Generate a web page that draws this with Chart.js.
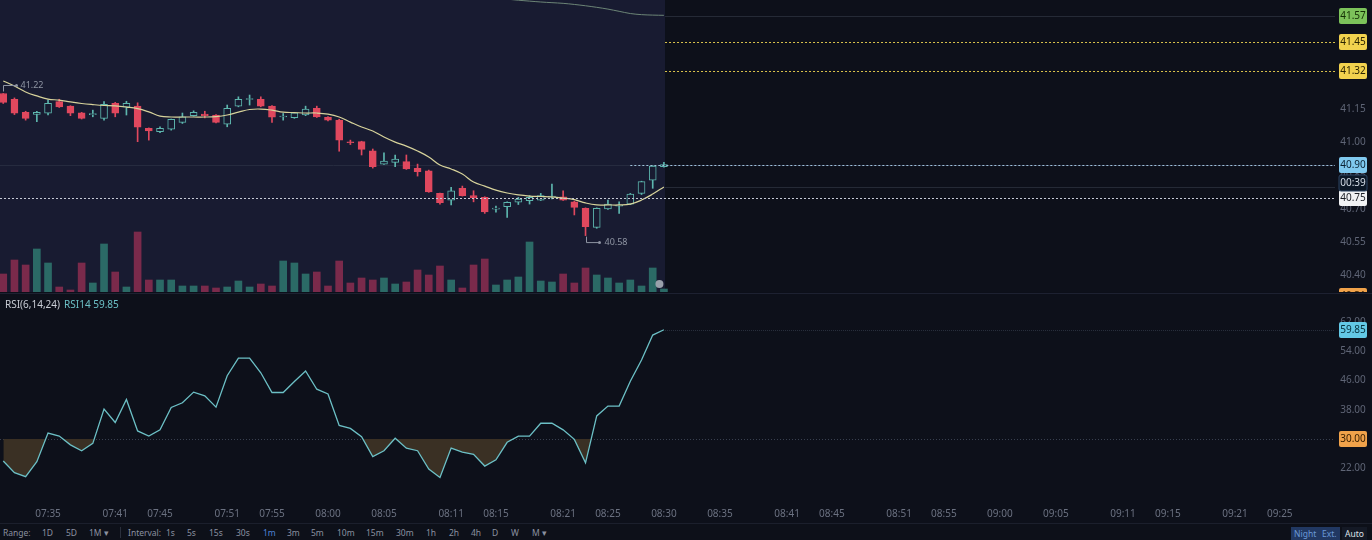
<!DOCTYPE html>
<html>
<head>
<meta charset="utf-8">
<script src="https://cdn.jsdelivr.net/npm/chart.js@4.4.0/dist/chart.umd.min.js"></script>
<style>
  body { margin: 0; background: #0c0f19; width: 1372px; height: 540px; overflow: hidden; font-family: "Noto Sans", sans-serif; }
  #price { position: absolute; left: 0; top: 0; }
  #rsi { position: absolute; left: 0; top: 293px; }
  #rsiLabel { position: absolute; left: 5px; top: 297px; font-size: 10px; color: #c9cdd5; }
  #rsiLabel b { font-weight: normal; color: #6cc0c6; margin-left: 4px; }
  #bar { position: absolute; left: 0; top: 523px; width: 1372px; height: 17px; background: #0d1019; border-top: 1px solid #1b1f2c; font-size: 8.5px; color: #8b91a0; }
  #bar span { position: absolute; top: 3px; white-space: nowrap; }
  #bar .on { color: #4d82d6; }
  #bar .sep { top: 3px; width: 1px; height: 11px; background: #2a2f3c; }
  #bar .box { top: 3px; height: 13px; line-height: 13px; padding: 0 3px; background: #213862; color: #6b98d8; }
  #bar .auto { background: #141925; color: #dde1e8; }
</style>
</head>
<body>
<canvas id="price" width="1372" height="292"></canvas>
<canvas id="rsi" width="1372" height="230"></canvas>
<div id="rsiLabel">RSI(6,14,24)<b>RSI14 59.85</b></div>
<div id="bar">
  <span style="left:3px">Range:</span>
  <span style="left:42px">1D</span>
  <span style="left:66px">5D</span>
  <span style="left:89px">1M ▾</span>
  <span class="sep" style="left:120px"></span>
  <span style="left:128px">Interval:</span>
  <span style="left:166px">1s</span>
  <span style="left:187px">5s</span>
  <span style="left:209px">15s</span>
  <span style="left:236px">30s</span>
  <span class="on" style="left:263px">1m</span>
  <span style="left:287px">3m</span>
  <span style="left:311px">5m</span>
  <span style="left:337px">10m</span>
  <span style="left:366px">15m</span>
  <span style="left:396px">30m</span>
  <span style="left:426px">1h</span>
  <span style="left:449px">2h</span>
  <span style="left:471px">4h</span>
  <span style="left:492px">D</span>
  <span style="left:511px">W</span>
  <span style="left:532px">M ▾</span>
  <span class="box" style="left:1291px">Night</span>
  <span class="box" style="left:1319px">Ext.</span>
  <span class="box auto" style="left:1342px">Auto</span>
</div>
<script>
// 1m candles, 07:31 - 08:30
const times = ['07:31','07:32','07:33','07:34','07:35','07:36','07:37','07:38','07:39','07:40',
  '07:41','07:42','07:43','07:44','07:45','07:46','07:47','07:48','07:49','07:50',
  '07:51','07:52','07:53','07:54','07:55','07:56','07:57','07:58','07:59','08:00',
  '08:01','08:02','08:03','08:04','08:05','08:06','08:07','08:08','08:09','08:10',
  '08:11','08:12','08:13','08:14','08:15','08:16','08:17','08:18','08:19','08:20',
  '08:21','08:22','08:23','08:24','08:25','08:26','08:27','08:28','08:29','08:30'];

const open = [41.22,41.194,41.135,41.126,41.131,41.183,41.163,41.133,41.125,41.108,
  41.176,41.158,41.163,41.063,41.048,41.059,41.09,41.12,41.127,41.123,
  41.082,41.163,41.193,41.194,41.163,41.114,41.111,41.123,41.153,41.113,
  41.10,41.002,41.003,40.962,40.902,40.91,40.913,40.883,40.872,40.77,
  40.74,40.793,40.76,40.752,40.699,40.71,40.73,40.737,40.74,40.754,
  40.755,40.732,40.703,40.617,40.70,40.712,40.722,40.77,40.83,40.89];
const high = [41.22,41.20,41.14,41.14,41.19,41.194,41.165,41.135,41.145,41.183,
  41.18,41.185,41.178,41.065,41.07,41.105,41.132,41.142,41.14,41.125,
  41.168,41.205,41.213,41.205,41.165,41.13,41.135,41.163,41.163,41.116,
  41.104,41.01,41.005,40.97,40.953,40.943,40.943,40.902,40.875,40.772,
  40.797,40.803,40.782,40.755,40.713,40.732,40.752,40.76,40.77,40.812,
  40.782,40.735,40.705,40.705,40.74,40.732,40.77,40.825,40.895,40.91];
const low = [41.175,41.125,41.10,41.093,41.123,41.157,41.12,41.105,41.115,41.10,
  41.115,41.123,41.003,41.01,41.043,41.055,41.085,41.118,41.11,41.088,
  41.07,41.16,41.168,41.16,41.09,41.10,41.108,41.12,41.112,41.097,
  40.96,40.99,40.943,40.884,40.90,40.89,40.878,40.848,40.775,40.722,
  40.718,40.758,40.732,40.68,40.686,40.662,40.72,40.722,40.738,40.745,
  40.738,40.673,40.58,40.613,40.698,40.68,40.72,40.765,40.793,40.888];
const close = [41.18,41.131,41.108,41.135,41.176,41.16,41.131,41.108,41.128,41.171,
  41.131,41.176,41.068,41.051,41.063,41.104,41.115,41.135,41.12,41.09,
  41.153,41.194,41.195,41.163,41.113,41.116,41.133,41.15,41.115,41.10,
  41.01,40.998,40.968,40.89,40.916,40.925,40.88,40.868,40.777,40.728,
  40.782,40.76,40.75,40.687,40.701,40.73,40.745,40.752,40.76,40.756,
  40.74,40.707,40.62,40.703,40.722,40.714,40.767,40.823,40.893,40.90];
const volume = [18,32,27,43,29,5,2,29,9,48,
  20,5,60,12,12,12,6,6,6,4,
  5,11,5,8,6,31,29,18,20,6,
  31,9,14,12,14,8,10,22,17,26,
  12,4,27,33,7,12,15,50,11,10,
  18,9,24,17,14,9,12,6,24,3];
const ma = [41.276,41.254,41.227,41.209,41.195,41.19,41.182,41.175,41.17,41.166,
  41.164,41.159,41.152,41.137,41.118,41.114,41.114,41.114,41.114,41.116,
  41.123,41.136,41.148,41.15,41.145,41.136,41.134,41.132,41.132,41.127,
  41.114,41.091,41.069,41.051,41.024,41.001,40.983,40.961,40.934,40.898,
  40.88,40.857,40.821,40.803,40.785,40.772,40.763,40.758,40.756,40.754,
  40.749,40.742,40.727,40.718,40.718,40.718,40.722,40.74,40.767,40.799];
// upper band, visible only from candle 45 on
const upperStart = 45;
const upper = [41.645,41.64,41.636,41.632,41.629,41.626,41.621,41.615,41.608,41.60,41.59,41.58,41.575,41.573,41.572];
const rsi14 = [24.0,20.8,19.7,23.8,31.6,30.8,28.4,26.8,28.8,38.2,
  34.5,40.8,32.2,30.8,32.5,38.6,39.9,42.8,41.8,38.7,
  47.3,52.1,52.1,48.1,42.7,42.7,45.7,48.6,43.6,42.3,
  33.7,32.9,30.6,25.2,26.8,30.2,27.5,26.8,21.8,19.5,
  27.5,26.4,25.8,22.6,24.3,29.1,30.8,30.8,34.3,34.3,
  32.5,29.9,23.5,36.3,39.0,39.0,45.8,51.6,58.4,59.85];

const tickLabels = ['07:35','07:41','07:45','07:51','07:55','08:00','08:05','08:11','08:15','08:21','08:25','08:30',
  '08:35','08:41','08:45','08:51','08:55','09:00','09:05','09:11','09:15','09:21','09:25'];
const priceTicks = [40.40, 40.55, 40.70, 40.85, 41.00, 41.15, 41.30, 41.45];
const rsiTicks = [22, 30, 38, 46, 54, 62];

const lastPrice = 40.90;
const avgCost = 40.75;
const alertLevels = [41.45, 41.32];
const upperLevel = 41.57;
const lowerLevel = 40.31;
const countdown = '00:39';
const rsiLevel = 30;

// ---- styling ----
const UP = '#5db6ae', DN = '#e0485e';
const PANE = '#181b31', DARK = '#0d101a';
const X_MIN = -0.29, X_MAX = 118.93;
const NOW = times.length - 1 + 0.1;
const isUp = close.map((c, i) => c >= open[i]);

function minuteIndex(t) {
  const [h, m] = t.split(':').map(Number);
  const [h0, m0] = times[0].split(':').map(Number);
  return h * 60 + m - (h0 * 60 + m0);
}

Chart.defaults.font.family = "'Noto Sans', sans-serif";
Chart.defaults.font.size = 10;

function hline(ctx, y, x1, x2, color, dash) {
  ctx.save();
  ctx.strokeStyle = color;
  ctx.lineWidth = 1;
  ctx.setLineDash(dash || []);
  ctx.beginPath();
  ctx.moveTo(x1, Math.round(y) + 0.5);
  ctx.lineTo(x2, Math.round(y) + 0.5);
  ctx.stroke();
  ctx.restore();
}

function axisLabels(ctx, scale, values) {
  ctx.save();
  ctx.fillStyle = '#5f6576';
  ctx.font = "10px 'Noto Sans'";
  ctx.textAlign = 'center';
  ctx.textBaseline = 'middle';
  values.forEach(v => ctx.fillText(v.toFixed(2), 1353, scale.getPixelForValue(v)));
  ctx.restore();
}

function tag(ctx, y, text, bg, fg, border) {
  ctx.save();
  ctx.fillStyle = bg;
  ctx.beginPath();
  ctx.roundRect(1339, Math.round(y) - 8, 28, 16, 2);
  ctx.fill();
  if (border) { ctx.strokeStyle = border; ctx.stroke(); }
  ctx.fillStyle = fg;
  ctx.font = "10px 'Noto Sans'";
  ctx.textAlign = 'center';
  ctx.textBaseline = 'middle';
  ctx.fillText(text, 1353, Math.round(y) + 0.5);
  ctx.restore();
}

const pricePlugin = {
  id: 'priceDeco',
  beforeDraw(chart) {
    const { ctx, chartArea: a, scales: { x } } = chart;
    ctx.save();
    ctx.fillStyle = DARK;
    ctx.fillRect(0, 0, chart.width, chart.height);
    ctx.fillStyle = PANE;
    ctx.fillRect(a.left, a.top, x.getPixelForValue(NOW) - a.left, a.bottom - a.top);
    ctx.restore();
  },
  beforeDatasetsDraw(chart) {
    const { ctx, chartArea: a, scales: { x, y } } = chart;
    const xn = x.getPixelForValue(NOW);
    hline(ctx, y.getPixelForValue(lastPrice), a.left, a.right, '#262b3f');
    hline(ctx, y.getPixelForValue(upperLevel), xn, a.right, '#252a36');
    hline(ctx, y.getPixelForValue(ma[ma.length - 1]), xn, a.right, '#252a36');
  },
  afterDatasetsDraw(chart) {
    const { ctx, chartArea: a, scales: { x, y } } = chart;
    const xn = x.getPixelForValue(NOW);
    alertLevels.forEach(v => hline(ctx, y.getPixelForValue(v), xn, a.right, '#d9c24c', [2, 2]));
    hline(ctx, y.getPixelForValue(lastPrice), x.getPixelForValue(times.length - 4), a.right, '#9fc3dc', [2, 2]);
    hline(ctx, y.getPixelForValue(avgCost), a.left, a.right, '#c6cad6', [2, 2]);

    // high / low markers
    ctx.save();
    ctx.strokeStyle = '#8f95a3';
    ctx.fillStyle = '#8f95a3';
    ctx.font = "9px 'Noto Sans'";
    ctx.textBaseline = 'middle';
    const hi = high.indexOf(Math.max(...high));
    const lo = low.indexOf(Math.min(...low));
    let px = Math.round(x.getPixelForValue(hi)) + 0.5, py = y.getPixelForValue(high[hi]);
    ctx.beginPath(); ctx.moveTo(px, py - 2); ctx.lineTo(px, py - 8); ctx.lineTo(px + 12, py - 8); ctx.stroke();
    ctx.beginPath(); ctx.arc(px + 13, py - 8, 1.5, 0, Math.PI * 2); ctx.fill();
    ctx.fillText(high[hi].toFixed(2), px + 17, py - 8);
    px = Math.round(x.getPixelForValue(lo)) + 0.5; py = y.getPixelForValue(low[lo]);
    ctx.beginPath(); ctx.moveTo(px, py + 1); ctx.lineTo(px, py + 7); ctx.lineTo(px + 12, py + 7); ctx.stroke();
    ctx.beginPath(); ctx.arc(px + 13, py + 7, 1.5, 0, Math.PI * 2); ctx.fill();
    ctx.fillText(low[lo].toFixed(2), px + 18, py + 7);
    ctx.restore();
  },
  afterDraw(chart) {
    const { ctx, scales: { y } } = chart;
    axisLabels(ctx, y, priceTicks);
    tag(ctx, y.getPixelForValue(lowerLevel), '40.31', '#f0a24a', '#3a2000');
    tag(ctx, y.getPixelForValue(upperLevel), upperLevel.toFixed(2), '#7cc25a', '#143005');
    alertLevels.forEach(v => tag(ctx, y.getPixelForValue(v), v.toFixed(2), '#f2d24e', '#2c2400'));
    tag(ctx, y.getPixelForValue(avgCost), avgCost.toFixed(2), '#f1f2f4', '#1c1f26');
    const yl = y.getPixelForValue(lastPrice);
    tag(ctx, yl + 18, countdown, '#0c1726', '#d3dbe5', '#2c4563');
    tag(ctx, yl, lastPrice.toFixed(2), '#80c9ef', '#0b2233');
  }
};

new Chart(document.getElementById('price'), {
  type: 'bar',
  data: {
    datasets: [
      {
        type: 'line', label: 'MA', yAxisID: 'y', order: 1,
        data: ma.map((v, i) => ({ x: i, y: v })),
        borderColor: '#d7d39b', borderWidth: 1.2, pointRadius: 0, tension: 0.4
      },
      {
        type: 'line', label: 'Upper', yAxisID: 'y', order: 1,
        data: upper.map((v, i) => ({ x: upperStart + i, y: v })),
        borderColor: '#6c8576', borderWidth: 1, pointRadius: 0, tension: 0.3
      },
      {
        label: 'Body', yAxisID: 'y', order: 2,
        data: times.map((t, i) => ({ x: i, y: [open[i], close[i]] })),
        backgroundColor: isUp.map(u => u ? PANE : DN),
        borderColor: isUp.map(u => u ? UP : DN),
        borderWidth: 1, borderSkipped: false, barThickness: 7, minBarLength: 1
      },
      {
        label: 'Wick', yAxisID: 'y', order: 3,
        data: times.map((t, i) => ({ x: i, y: [low[i], high[i]] })),
        backgroundColor: isUp.map(u => u ? UP : DN),
        barThickness: 1
      },
      {
        label: 'Volume', yAxisID: 'yv', order: 4,
        data: volume.map((v, i) => ({ x: i, y: v })),
        backgroundColor: isUp.map(u => u ? '#2b6a66' : '#7a2a4b'),
        barThickness: 7
      },
      {
        type: 'line', label: 'live', yAxisID: 'yv', order: 0,
        data: [{ x: times.length - 1.4, y: 8 }],
        showLine: false, pointRadius: 4, pointBackgroundColor: '#9aa1ab', pointBorderWidth: 0
      }
    ]
  },
  options: {
    responsive: false, animation: false, devicePixelRatio: 1,
    layout: { padding: 0, autoPadding: false },
    plugins: { legend: { display: false }, tooltip: { enabled: false } },
    datasets: { bar: { grouped: false } },
    scales: {
      x: { type: 'linear', min: X_MIN, max: X_MAX, display: false, offset: false },
      y: {
        position: 'right', min: 40.326, max: 41.641,
        grid: { display: false, drawTicks: false }, border: { display: false },
        afterFit: s => { s.width = 37; },
        afterBuildTicks: s => { s.ticks = priceTicks.map(v => ({ value: v })); },
        ticks: { display: false }
      },
      yv: { display: false, min: 0, max: 292 }
    }
  },
  plugins: [pricePlugin]
});

const rsiPlugin = {
  id: 'rsiDeco',
  beforeDraw(chart) {
    const { ctx } = chart;
    ctx.save();
    ctx.fillStyle = DARK;
    ctx.fillRect(0, 0, chart.width, chart.height);
    ctx.fillStyle = '#1d2131';
    ctx.fillRect(0, 0, chart.width, 1);
    ctx.restore();
  },
  beforeDatasetsDraw(chart) {
    const { ctx, chartArea: a, scales: { x, y } } = chart;
    hline(ctx, y.getPixelForValue(rsiLevel), a.left, a.right, '#394050', [1, 2]);
    hline(ctx, y.getPixelForValue(rsi14[rsi14.length - 1]), x.getPixelForValue(NOW), a.right, '#2a303d', [1, 1]);
  },
  afterDraw(chart) {
    const { ctx, scales: { y } } = chart;
    axisLabels(ctx, y, rsiTicks);
    const last = rsi14[rsi14.length - 1];
    tag(ctx, y.getPixelForValue(last), last.toFixed(2), '#63c8e5', '#06303c');
    tag(ctx, y.getPixelForValue(rsiLevel), rsiLevel.toFixed(2), '#f0a24a', '#3a2000');
  }
};

new Chart(document.getElementById('rsi'), {
  type: 'line',
  data: {
    datasets: [{
      label: 'RSI14',
      data: rsi14.map((v, i) => ({ x: i, y: v })),
      borderColor: '#6cc0c6', borderWidth: 1.3, pointRadius: 0, tension: 0,
      fill: { target: { value: rsiLevel }, above: 'rgba(0,0,0,0)', below: '#3a3024' }
    }]
  },
  options: {
    responsive: false, animation: false, devicePixelRatio: 1,
    layout: { padding: 0, autoPadding: false },
    plugins: { legend: { display: false }, tooltip: { enabled: false } },
    scales: {
      x: {
        type: 'linear', min: X_MIN, max: X_MAX,
        grid: { display: false, drawTicks: false }, border: { display: false },
        afterFit: s => { s.height = 20; },
        afterBuildTicks: s => { s.ticks = tickLabels.map(t => ({ value: minuteIndex(t) })); },
        ticks: { color: '#6b7181', padding: 5, maxRotation: 0, autoSkip: false, callback: (v, i) => tickLabels[i] }
      },
      y: {
        position: 'right', min: 12.51, max: 69.89,
        grid: { display: false, drawTicks: false }, border: { display: false },
        afterFit: s => { s.width = 37; },
        afterBuildTicks: s => { s.ticks = rsiTicks.map(v => ({ value: v })); },
        ticks: { display: false }
      }
    }
  },
  plugins: [rsiPlugin]
});
</script>
</body>
</html>
